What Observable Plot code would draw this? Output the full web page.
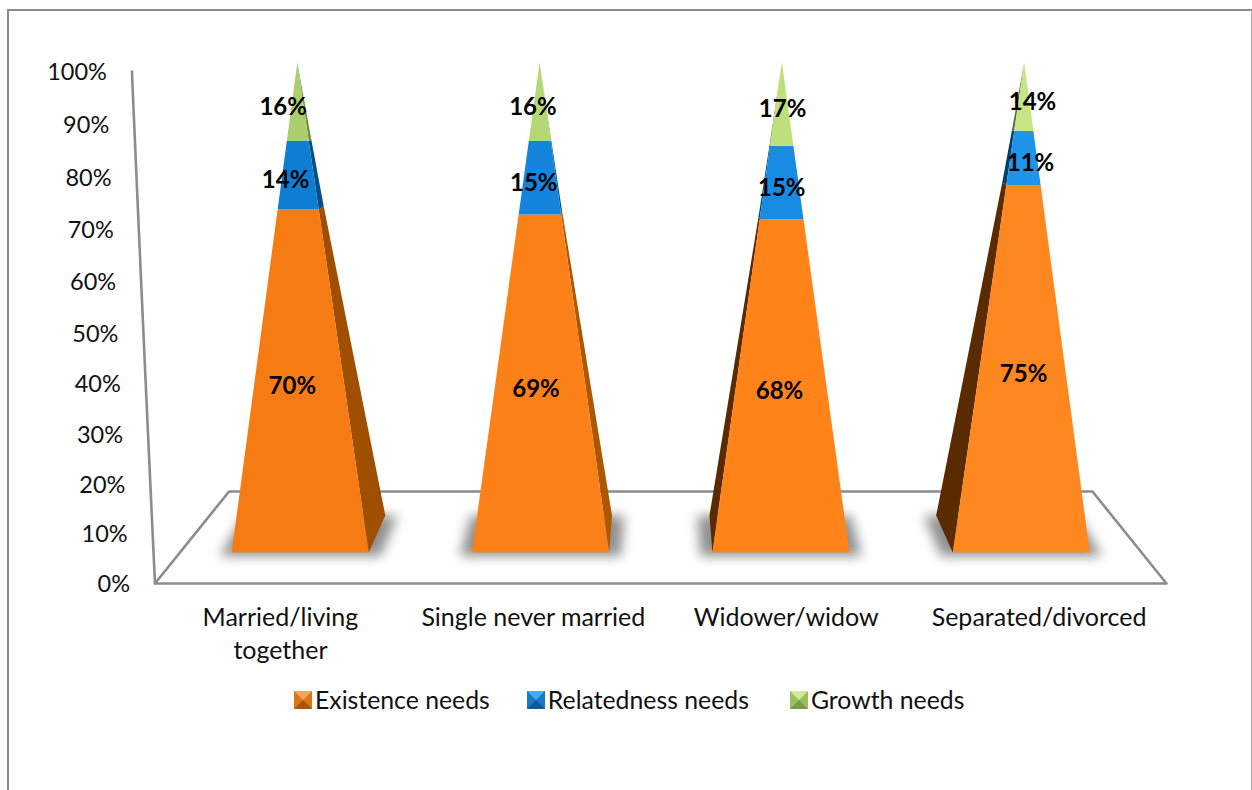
<!DOCTYPE html>
<html>
<head>
<meta charset="utf-8">
<script src="https://cdn.jsdelivr.net/npm/d3@7"></script>
<script src="https://cdn.jsdelivr.net/npm/@observablehq/plot@0.6"></script>
<style>
  html, body { margin: 0; padding: 0; background: #fff; overflow: hidden; }
  body { width: 1252px; height: 790px; position: relative; font-family: Lato, sans-serif; }
  #frame { position: absolute; left: 7px; top: 9px; width: 1242px; height: 800px;
           border-left: 2px solid #8a8a8a; border-top: 2px solid #8a8a8a; border-right: 1px solid #aaa; }
  #chart { position: absolute; left: 0; top: 0; }
  #chart svg { display: block; background: transparent; }
  #legend { position: absolute; left: 294px; top: 685px; display: flex; align-items: center;
            font-size: 24.8px; color: #111; line-height: 30px; }
  .item { display: flex; align-items: center; margin-right: 37px; }
  .item:nth-child(2) { margin-right: 41px; }
  .swatch { width: 0; height: 0; border-style: solid; border-width: 9px; margin-right: 3px; }
</style>
</head>
<body>
<div id="frame"></div>
<div id="chart"></div>
<div id="legend"></div>
<script>
const categories = ["Married/living\ntogether", "Single never married", "Widower/widow", "Separated/divorced"];
const seriesNames = ["Existence needs", "Relatedness needs", "Growth needs"];
const existence = [70, 69, 68, 75];
const relatedness = [14, 15, 15, 11];
const growth = [16, 16, 17, 14];
const tickLabels = ["0%", "10%", "20%", "30%", "40%", "50%", "60%", "70%", "80%", "90%", "100%"];
const tickValues = [0, 10, 20, 30, 40, 50, 60, 70, 80, 90, 100];

const frontColors = [
  ["#f67b13", "#0f7dd2", "#abcf6e"],
  ["#fc8018", "#1484dd", "#b5d877"],
  ["#ff8319", "#188ce2", "#bde07b"],
  ["#ff871f", "#2094ea", "#c6e584"]
];
const sideColors = [
  ["#a04e00", "#00508c", "#6f8e3e"],
  ["#ad5800", "#005a9a", "#76933f"],
  ["#5a2a00", "#003f6e", "#5f6e3a"],
  ["#5a2a00", "#003f6e", "#5f6e3a"]
];
const swatchColors = [
  ["#f3a45e", "#dc7418", "#a9530c", "#dc7418"],
  ["#4aa8ec", "#1a78c4", "#0c5c9c", "#1a78c4"],
  ["#d2ea9c", "#9dc05e", "#7c9a46", "#9dc05e"]
];

// scene geometry, in scale units
const halfWidth = 0.285;
const vanishX = 2;
const backScale = 0.943;
const tipScale = 1.008;
const baseDepth = 7.55;      // depth of a pyramid's base, in percent units
const floorFrontY = -6.33, floorBackY = 12.45;
const floorFrontX = [-0.104, 4.104], floorBackX = [0.204, 3.796];
const wallX = [-0.104, -0.2];
const wallBend = 0.0458;
const wallLevel = v => { const f = v / 100; return floorFrontY + 104.49 * f * (1 - wallBend) / (1 - wallBend * f); };
const wallXAt = v => wallX[0] + (wallX[1] - wallX[0]) * (v / 100);

const lerp = (a, b, t) => a + (b - a) * t;

const sides = [], fronts = [], shadows = [], labels = [];
categories.forEach((c, i) => {
  const cx = i + 0.5;
  const tip = vanishX + (cx - vanishX) * tipScale;
  const onLeft = cx < vanishX;
  const frontEdge = onLeft ? cx + halfWidth : cx - halfWidth;
  const backEdge = vanishX + (frontEdge - vanishX) * backScale;
  const stack = [existence[i], relatedness[i], growth[i]];
  let acc = 0;
  stack.forEach((v, s) => {
    const t0 = acc / 100, t1 = (acc + v) / 100;
    const f = `f${i}-${s}`, g = `s${i}-${s}`;
    const fc = frontColors[i][s], sc = sideColors[i][s];
    [[lerp(cx - halfWidth, tip, t0), t0], [lerp(cx + halfWidth, tip, t0), t0],
     [lerp(cx + halfWidth, tip, t1), t1], [lerp(cx - halfWidth, tip, t1), t1]]
      .forEach(([x, t]) => fronts.push({id: f, x, y: t * 100, color: fc}));
    const depthY = t => t * 100 + baseDepth * (1 - t) * (1 - t);
    [[lerp(frontEdge, tip, t0), t0 * 100], [lerp(backEdge, tip, t0), depthY(t0)],
     [lerp(backEdge, tip, t1), depthY(t1)], [lerp(frontEdge, tip, t1), t1 * 100]]
      .forEach(([x, y]) => sides.push({id: g, x, y, color: sc}));
    const mid = acc + v / 2;
    labels.push({
      x: cx + (-0.0125 + (cx - vanishX) / 1.5 * (mid - 5) * 0.00067),
      y: mid, text: v + "%"
    });
    acc += v;
  });
  // soft shadow on the floor
  const pad = 0.05;
  const bl = vanishX + (cx - halfWidth - vanishX) * backScale, br = vanishX + (cx + halfWidth - vanishX) * backScale;
  [[cx - halfWidth - pad, -0.7], [cx + halfWidth + pad, -0.7], [br + pad, baseDepth], [bl - pad, baseDepth]]
    .forEach(([x, y]) => shadows.push({id: `h${i}`, x, y}));
});

const floorOutline = [
  {x: floorFrontX[0], y: floorFrontY}, {x: floorBackX[0], y: floorBackY},
  {x: floorBackX[1], y: floorBackY}, {x: floorFrontX[1], y: floorFrontY},
  {x: floorFrontX[0], y: floorFrontY}
];
const wallLine = tickValues.map(v => ({x: wallXAt(v), y: wallLevel(v)}));
const tickRows = tickValues.map((v, i) => ({x: wallXAt(v), y: wallLevel(v), text: tickLabels[i]}));
const categoryRows = categories.map((c, i) => ({
  x: lerp(floorFrontX[0], floorFrontX[1], (i + 0.5) / categories.length),
  y: floorFrontY, text: c
}));

const chart = Plot.plot({
  width: 1252, height: 680,
  marginTop: 0, marginRight: 0, marginBottom: 0, marginLeft: 0,
  x: {domain: [0, 4], range: [179.5, 1141], axis: null},
  y: {domain: [0, 100], range: [552, 62], axis: null},
  color: {type: "identity"},
  style: {background: "transparent", fontFamily: "Lato, sans-serif", overflow: "visible"},
  marks: [
    Plot.line(floorOutline, {x: "x", y: "y", stroke: "#8c8c8c", strokeWidth: 2.6, curve: "linear"}),
    Plot.line(wallLine, {x: "x", y: "y", stroke: "#8c8c8c", strokeWidth: 2.6, curve: "linear"}),
    Plot.line(shadows, {x: "x", y: "y", z: "id", fill: "#8f8f8f", stroke: "none", imageFilter: "blur(6px)", curve: "linear"}),
    Plot.line(sides, {x: "x", y: "y", z: "id", fill: "color", stroke: "none", curve: "linear"}),
    Plot.line(fronts, {x: "x", y: "y", z: "id", fill: "color", stroke: "none", curve: "linear"}),
    Plot.text(tickRows, {x: "x", y: "y", text: "text", dx: -25, dy: 0.5, textAnchor: "end", fontSize: 23.5, fill: "#111"}),
    Plot.text(categoryRows, {x: "x", y: "y", text: "text", dy: 19, dx: -1, lineAnchor: "top", lineHeight: 1.32, fontSize: 25, fill: "#111"}),
    Plot.text(labels, {x: "x", y: "y", text: "text", dy: 5.5, fontSize: 24, fontWeight: 700, fill: "#000"})
  ]
});
document.getElementById("chart").appendChild(chart);

const legend = d3.select("#legend");
seriesNames.forEach((name, i) => {
  const item = legend.append("div").attr("class", "item");
  const [t, r, b, l] = swatchColors[i];
  item.append("span").attr("class", "swatch")
    .style("border-color", `${t} ${r} ${b} ${l}`);
  item.append("span").text(name);
});
</script>
</body>
</html>
